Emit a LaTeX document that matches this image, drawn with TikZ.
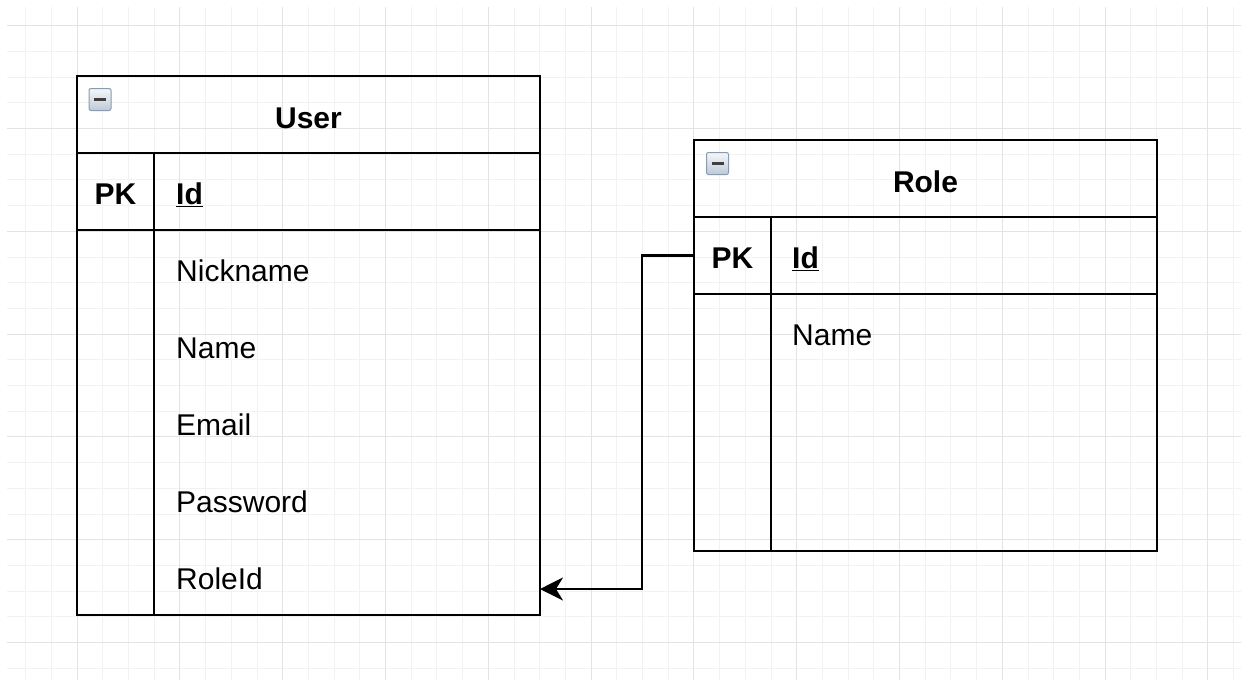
\documentclass[tikz,border=0pt]{standalone}
\usepackage{fontspec}
\setmainfont{Liberation Sans}
\usetikzlibrary{arrows.meta}
\usetikzlibrary{positioning}

\definecolor{gridminor}{HTML}{F2F2F2}
\definecolor{gridmajor}{HTML}{E3E3E3}
\definecolor{iconedge}{HTML}{8A9BB0}
\definecolor{icontop}{HTML}{F4F7FA}
\definecolor{iconbottom}{HTML}{BFCAD6}

\tikzset{
  tbl/.style = {draw, line width=2.5pt, minimum width=463pt, inner sep=0pt,
    outer sep=0pt, anchor=north west},
  tblline/.style = {line width=2.5pt},
  titletext/.style = {font=\fontsize{30}{36}\selectfont\bfseries, inner sep=0pt},
  keytext/.style = {font=\fontsize{30}{36}\selectfont\bfseries, inner sep=0pt},
  fieldtext/.style = {font=\fontsize{30}{36}\selectfont, inner sep=0pt, anchor=west},
  collapse/.style = {draw=iconedge, line width=1pt, rounded corners=2pt,
    top color=icontop, bottom color=iconbottom, minimum size=22pt, inner sep=0pt,
    path picture={\draw[line width=3pt, black!75]
      ([xshift=-6pt]path picture bounding box.center) --
      ([xshift=6pt]path picture bounding box.center);}},
  fkarrow/.style = {line width=2.5pt, -{Stealth[length=23pt, width=23pt, inset=7pt]}}
}

\begin{document}
\begin{tikzpicture}[x=1pt, y=-1pt]
\useasboundingbox (0,0) rectangle (1248,686);

% grid
\begin{scope}
\clip (7,7) rectangle (1241,679);
\foreach \k in {1,...,48}
  \draw[gridminor, line width=1pt] ({25.7*\k},0) -- ({25.7*\k},686);
\foreach \k in {1,...,26}
  \draw[gridminor, line width=1pt] (0,{25.7*\k}) -- (1248,{25.7*\k});
\foreach \k in {3,7,...,47}
  \draw[gridmajor, line width=1pt] ({25.7*\k},0) -- ({25.7*\k},686);
\foreach \k in {1,5,...,25}
  \draw[gridmajor, line width=1pt] (0,{25.7*\k}) -- (1248,{25.7*\k});
\end{scope}

% User table
\node[tbl, minimum height=77pt] (userhead) at (77,76) {};
\node[tbl, minimum height=77pt, below=0pt of userhead.south west, anchor=north west] (userpk) {};
\node[tbl, minimum height=385pt, below=0pt of userpk.south west, anchor=north west] (userrows) {};
\draw[tblline] ([xshift=77pt]userpk.north west) -- ([xshift=77pt]userrows.south west);
\node[collapse] (usericon) at (100,99.5) {};
\node[titletext] (usertitle) at ([yshift=-4pt]userhead.center) {User};
\node[keytext] (userkey) at ([xshift=38.5pt, yshift=-3pt]userpk.west) {PK};
\node[fieldtext] (userid) at ([xshift=99pt, yshift=-3pt]userpk.west) {\bfseries\underline{Id}};
\foreach \fname [count=\i] in {Nickname,Name,Email,Password,RoleId}
  \node[fieldtext] (userf\i) at (176,{271+77*(\i-1)}) {\fname};

% Role table
\node[tbl, minimum height=77pt] (rolehead) at (694,140) {};
\node[tbl, minimum height=77pt, below=0pt of rolehead.south west, anchor=north west] (rolepk) {};
\node[tbl, minimum height=257pt, below=0pt of rolepk.south west, anchor=north west] (rolerows) {};
\draw[tblline] ([xshift=77pt]rolepk.north west) -- ([xshift=77pt]rolerows.south west);
\node[collapse] (roleicon) at (717.5,163.5) {};
\node[titletext] (roletitle) at ([yshift=-3pt]rolehead.center) {Role};
\node[keytext] (rolekey) at ([xshift=38.5pt, yshift=-3pt]rolepk.west) {PK};
\node[fieldtext] (roleid) at ([xshift=98pt, yshift=-3pt]rolepk.west) {\bfseries\underline{Id}};
\node[fieldtext] (rolef1) at (792,335) {Name};

% relation
\coordinate (fkbend) at (642,589);
\coordinate (roleidend) at (540,589);
\draw[fkarrow] (rolepk.west) -| (fkbend) -- (roleidend);
\end{tikzpicture}
\end{document}
